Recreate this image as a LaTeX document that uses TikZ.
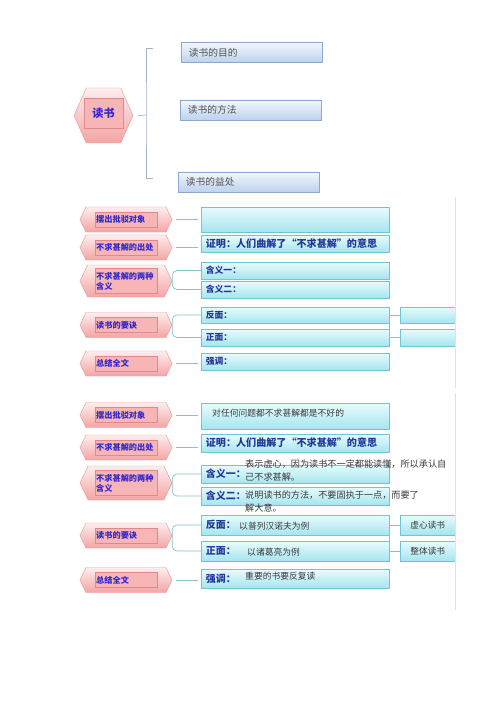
\documentclass[tikz,border=0pt]{standalone}
\usepackage{fontspec}
\usepackage{xcolor}
\usepackage{tikz}
\usetikzlibrary{shapes.symbols, shadows, positioning, calc}
\newfontfamily\cjk{Noto Sans CJK SC}
\definecolor{hexline}{HTML}{EC9C9C}
\definecolor{hextop}{HTML}{FDEEEE}
\definecolor{hexbot}{HTML}{F4A4A4}
\definecolor{labfill}{HTML}{F7B5B5}
\definecolor{labline}{HTML}{DE8A8A}
\definecolor{inkblue}{HTML}{3326CC}
\definecolor{navyink}{HTML}{23379A}
\definecolor{skytop}{HTML}{F3F7FC}
\definecolor{skybot}{HTML}{BCD2EE}
\definecolor{skyline}{HTML}{8CA8CF}
\definecolor{aquatop}{HTML}{E8FCFD}
\definecolor{aquabot}{HTML}{A6E5EE}
\definecolor{aqualine}{HTML}{6FC5D6}
\definecolor{linkteal}{HTML}{86C2CE}
\definecolor{bracegray}{HTML}{9DB2CB}
\definecolor{edgegray}{HTML}{E2E2E2}
\definecolor{notegray}{HTML}{3A3A3A}

\begin{document}
\begin{tikzpicture}[x=0.03cm, y=-0.03cm, font=\cjk,
    hexbg/.style={signal, signal to=west and east, signal pointer angle=129, draw=hexline, line width=0.4pt,
      top color=hextop, bottom color=hexbot, minimum width=2.76cm, minimum height=#1, inner sep=0pt},
    hexbg/.default=0.75cm,
    hexlab/.style={rectangle, draw=labline, line width=0.4pt, fill=labfill, text=inkblue,
      font=\cjk\bfseries\fontsize{7}{8.5}\selectfont, minimum width=1.86cm, minimum height=#1,
      text width=1.79cm, align=left, inner sep=1pt,
      drop shadow={opacity=0.2, shadow xshift=0.4pt, shadow yshift=-0.6pt}},
    hexlab/.default=0.45cm,
    tbox/.style={rectangle, draw=skyline, line width=0.4pt, top color=skytop, bottom color=skybot,
      anchor=west, minimum width=4.23cm, minimum height=0.6cm, text width=3.77cm, align=left,
      inner xsep=6.5pt, inner ysep=0pt, text=black!68, font=\cjk\fontsize{8.3}{9}\selectfont,
      drop shadow={opacity=0.25, shadow xshift=0.6pt, shadow yshift=-0.8pt}},
    sbox/.style={rectangle, draw=aqualine, line width=0.4pt, top color=aquatop, bottom color=aquabot,
      anchor=west, minimum width=5.64cm, minimum height=#1*0.03cm, text width=5.36cm, align=left,
      inner xsep=4pt, inner ysep=0pt, text=navyink, font=\cjk\bfseries\fontsize{7.5}{9}\selectfont,
      drop shadow={opacity=0.2, shadow xshift=0.5pt, shadow yshift=-0.7pt}},
    fbox/.style={sbox=#1, minimum width=1.65cm, text width=1.37cm, align=center, text=notegray,
      font=\cjk\fontsize{7.4}{9}\selectfont},
    note/.style={anchor=west, inner sep=0pt, align=left, text=notegray, font=\cjk\fontsize{7.5}{11}\selectfont},
    link/.style={draw=linkteal, line width=0.6pt},
    brace/.style={draw=bracegray, line width=0.6pt}]

  \useasboundingbox[fill=white] (0,0) rectangle (500,707);

  % title and its three parts
  \node (rd) [hexbg=1.65cm, minimum width=1.77cm, signal pointer angle=132] at (103.5,115.5) {};
  \node (rdt) [rectangle, draw=labline, line width=0.4pt, fill=labfill, minimum width=1.17cm, minimum height=0.9cm,
    text=inkblue, font=\cjk\bfseries\fontsize{9.5}{11}\selectfont,
    drop shadow={opacity=0.2, shadow xshift=0.4pt, shadow yshift=-0.6pt}] at (103.5,113) {读书};

  \node (aim) [tbox] at (181,52.5) {读书的目的};
  \node (way) [tbox] at (180,110) {读书的方法};
  \node (gain) [tbox] at (178,182) {读书的益处};

  \coordinate (brtop) at (153,48);
  \coordinate (brmid) at (146,115);
  \coordinate (brbot) at (153,178);
  \draw [brace] (brtop) -| (brmid) |- (brbot);
  \draw [brace] ([xshift=0.15cm]rd.east) -- (brmid);

  % first chart (blank)
  \foreach \id/\y/\t in {obj/219.5/摆出批驳对象, src/247.5/不求甚解的出处, key/325/读书的要诀, sum/363.5/总结全文} {
    \node (h1\id) [hexbg] at (126,\y) {};
    \node (h1\id t) [hexlab] at (h1\id) {\t};
  }
  \node (h1mean) [hexbg=0.96cm] at (126,281) {};
  \node (h1meant) [hexlab=0.75cm] at (h1mean) {不求甚解的两种\\含义};

  \node (b1obj) [sbox=25] at (201,219.5) {};
  \node (b1src) [sbox=17] at (201,243.5) {\fontsize{8.6}{10}\selectfont 证明：人们曲解了“不求甚解”的意思};
  \node (b1one) [sbox=17] at (201,270.5) {含义一：};
  \node (b1two) [sbox=17] at (201,289.5) {含义二：};
  \node (b1neg) [sbox=16] at (201,315) {反面：};
  \node (b1pos) [sbox=17] at (201,337.5) {正面：};
  \node (b1emph) [sbox=17] at (201,361.5) {强调：};
  \node (f1neg) [fbox=16] at (400,315) {};
  \node (f1pos) [fbox=17] at (400,337.5) {};

  % second chart (filled in)
  \foreach \id/\y/\t in {obj/415/摆出批驳对象, src/447.5/不求甚解的出处, key/535.5/读书的要诀, sum/580/总结全文} {
    \node (h2\id) [hexbg] at (126,\y) {};
    \node (h2\id t) [hexlab] at (h2\id) {\t};
  }
  \node (h2mean) [hexbg=1.02cm] at (126,483) {};
  \node (h2meant) [hexlab=0.75cm] at (h2mean) {不求甚解的两种\\含义};

  \node (b2obj) [sbox=26] at (201,416) {};
  \node (b2src) [sbox=18] at (201,443) {\fontsize{8.6}{10}\selectfont 证明：人们曲解了“不求甚解”的意思};
  \node (b2one) [sbox=18] at (201,474) {\fontsize{8.5}{10}\selectfont 含义一：};
  \node (b2two) [sbox=18] at (201,496) {\fontsize{8.5}{10}\selectfont 含义二：};
  \node (b2neg) [sbox=20] at (201,525) {\fontsize{8.5}{10}\selectfont 反面：};
  \node (b2pos) [sbox=20] at (201,551) {\fontsize{8.5}{10}\selectfont 正面：};
  \node (b2emph) [sbox=19] at (201,578.5) {\fontsize{8.5}{10}\selectfont 强调：};
  \node (f2neg) [fbox=20] at (400,525) {虚心读书};
  \node (f2pos) [fbox=20] at (400,551) {整体读书};

  \node (t2obj) [note] at (212,413) {对任何问题都不求甚解都是不好的};
  \node (t2one) [note, font=\cjk\fontsize{7.8}{11}\selectfont] at (245,470.5) {表示虚心，因为读书不一定都能读懂，所以承认自\\己不求甚解。};
  \node (t2two) [note, font=\cjk\fontsize{7.8}{11}\selectfont] at (245,501.5) {说明读书的方法，不要固执于一点，而要了\\解大意。};
  \node (t2neg) [note] at (239,526) {以普列汉诺夫为例};
  \node (t2pos) [note] at (247,552) {以诸葛亮为例};
  \node (t2emph) [note] at (245,576) {重要的书要反复读};

  % connectors
  \foreach \s in {1,2} {
    \foreach \h/\b in {obj/obj, src/src, sum/emph} {
      \draw [link, shorten <=0.12cm, shorten >=0.09cm] (h\s\h.east) -- (h\s\h.east -| b\s\b.west);
    }
    \draw [link, rounded corners=4pt] (b\s one.west) -| (h\s mean.east) |- (b\s two.west);
    \draw [link, rounded corners=4pt] (b\s neg.west) -| (h\s key.east) |- (b\s pos.west);
    \draw [link] (f\s neg.west) -- (f\s neg.west -| b\s neg.east) |- (f\s pos.west);
  }

  % page edges
  \draw [edgegray, line width=0.6pt] (455,197) -- (455,388);
  \draw [edgegray, line width=0.6pt] (455,393) -- (455,610);
\end{tikzpicture}
\end{document}
